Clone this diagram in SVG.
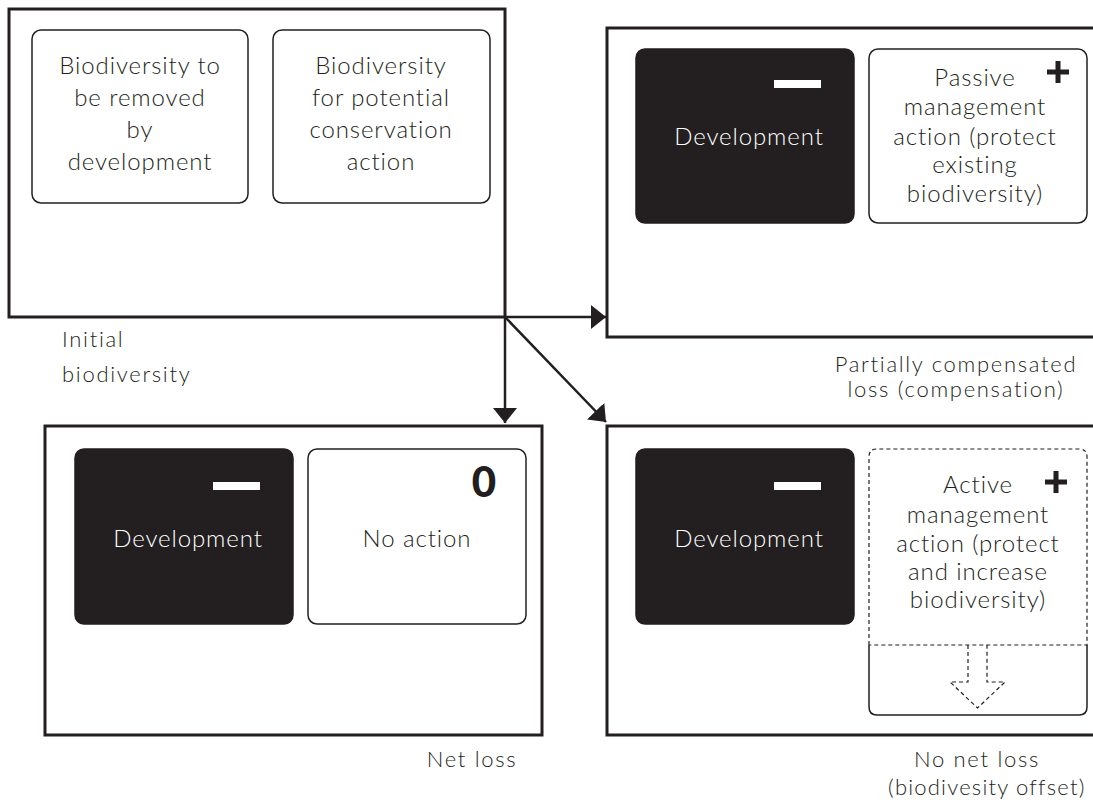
<svg xmlns="http://www.w3.org/2000/svg" width="1093" height="807" viewBox="0 0 1093 807">
<defs>
<style>
.frame{fill:#fff;stroke:#231f20;stroke-width:3}
.card{fill:#fff;stroke:#231f20;stroke-width:1.5}
.dark{fill:#231f20;stroke:#231f20;stroke-width:1.5}
.t{font-family:Lato,"Liberation Sans",sans-serif;font-size:24px;font-weight:300;letter-spacing:0.9px;fill:#231f20;text-anchor:middle}
.w{fill:#fff}
.lbl{font-family:Lato,"Liberation Sans",sans-serif;font-size:22px;font-weight:300;letter-spacing:1.7px;fill:#231f20}
.conn{stroke:#231f20;stroke-width:2.5;fill:none}
.dash{fill:none;stroke:#231f20;stroke-width:1.2;stroke-dasharray:4 3}
</style>
<marker id="ah" viewBox="0 0 15 24" refX="15" refY="12" markerWidth="15" markerHeight="24" markerUnits="userSpaceOnUse" orient="auto">
<path d="M0,0 L15,12 L0,24 Z" fill="#231f20"/>
</marker>
</defs>
<rect width="1093" height="807" fill="#fff"/>

<g id="initial">
<rect class="frame" x="9" y="9" width="496" height="308"/>
<rect class="card" x="32" y="30" width="216" height="173" rx="9"/>
<text class="t" x="140" y="74">Biodiversity to</text>
<text class="t" x="140" y="106">be removed</text>
<text class="t" x="140" y="138">by</text>
<text class="t" x="140" y="170">development</text>
<rect class="card" x="273" y="30" width="217" height="173" rx="9"/>
<text class="t" x="381" y="74">Biodiversity</text>
<text class="t" x="381" y="106">for potential</text>
<text class="t" x="381" y="138">conservation</text>
<text class="t" x="381" y="170">action</text>
<text class="lbl" x="62" y="347">Initial</text>
<text class="lbl" x="62" y="382">biodiversity</text>
</g>

<g id="compensation">
<rect class="frame" x="607" y="28" width="500" height="309"/>
<rect class="dark" x="636" y="49" width="218" height="174" rx="9"/>
<rect x="774" y="80" width="47" height="8" fill="#fff"/>
<text class="t w" x="749" y="145">Development</text>
<rect class="card" x="869" y="49" width="218" height="174" rx="9"/>
<path d="M1047,72 H1069 M1058,61 V83" stroke="#231f20" stroke-width="5"/>
<text class="t" x="975" y="86">Passive</text>
<text class="t" x="975" y="115">management</text>
<text class="t" x="975" y="145">action (protect</text>
<text class="t" x="975" y="173">existing</text>
<text class="t" x="975" y="202">biodiversity)</text>
<text class="lbl" x="956" y="372" text-anchor="middle">Partially compensated</text>
<text class="lbl" x="956" y="397" text-anchor="middle">loss (compensation)</text>
</g>

<g id="netloss">
<rect class="frame" x="45" y="426" width="497" height="309"/>
<rect class="dark" x="75" y="449" width="218" height="175" rx="9"/>
<rect x="213" y="482" width="47" height="8" fill="#fff"/>
<text class="t w" x="188" y="547">Development</text>
<rect class="card" x="308" y="449" width="218" height="175" rx="9"/>
<text x="484" y="497" font-family="Lato,'Liberation Sans',sans-serif" font-size="42" font-weight="900" fill="#231f20" text-anchor="middle">0</text>
<text class="t" x="417" y="547">No action</text>
<text class="lbl" x="472" y="767" text-anchor="middle">Net loss</text>
</g>

<g id="nonetloss">
<rect class="frame" x="607" y="426" width="500" height="309"/>
<rect class="dark" x="636" y="449" width="218" height="175" rx="9"/>
<rect x="774" y="482" width="47" height="8" fill="#fff"/>
<text class="t w" x="749" y="547">Development</text>
<path d="M869,645 V707 Q869,715 877,715 H1079 Q1087,715 1087,707 V645" fill="none" stroke="#231f20" stroke-width="1.5"/>
<path class="dash" d="M869,645 V457 Q869,449 877,449 H1079 Q1087,449 1087,457 V645 Z"/>
<path class="dash" d="M968,645 V682 H950 L977.5,708 L1005,682 H987 V645"/>
<path d="M1045,482 H1067 M1056,471 V493" stroke="#231f20" stroke-width="5"/>
<text class="t" x="978" y="493">Active</text>
<text class="t" x="978" y="523">management</text>
<text class="t" x="978" y="552">action (protect</text>
<text class="t" x="978" y="580">and increase</text>
<text class="t" x="978" y="608">biodiversity)</text>
<text class="lbl" x="977" y="767" text-anchor="middle">No net loss</text>
<text class="lbl" x="888" y="795" style="letter-spacing:1.2px">(biodivesity offset)</text>
</g>

<g id="connectors">
<line class="conn" x1="505" y1="317" x2="606" y2="317" marker-end="url(#ah)"/>
<line class="conn" x1="505" y1="317" x2="505" y2="423" marker-end="url(#ah)"/>
<line class="conn" x1="505" y1="317" x2="606" y2="422" marker-end="url(#ah)"/>
</g>
</svg>
